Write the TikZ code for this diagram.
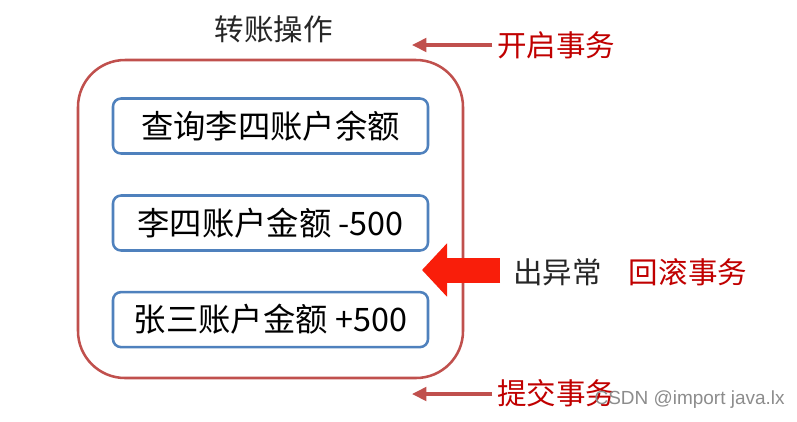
\documentclass[tikz,border=0pt]{standalone}
\usepackage{fontspec}
\usetikzlibrary{positioning,calc,arrows.meta}
\newfontfamily\cjk{Noto Sans CJK SC}
\newfontfamily\wmfont{Liberation Sans}
\definecolor{txred}{HTML}{C0504D}
\definecolor{txblue}{HTML}{4F81BD}
\definecolor{lblred}{HTML}{C00000}
\definecolor{errred}{HTML}{F91E0A}

\begin{document}
\begin{tikzpicture}[
  txframe/.style={draw=txred, line width=1.8pt, rounded corners=1.175cm,
                minimum width=9.625cm, minimum height=7.95cm},
  stepbox/.style={draw=txblue, line width=1.8pt, rounded corners=0.2cm,
                  fill=white, minimum width=7.875cm, minimum height=1.375cm,
                  align=center, font=\cjk\fontsize{23}{27}\selectfont},
  ttl/.style={font=\cjk\fontsize{21}{25}\selectfont, text=black!85},
  lbl/.style={font=\cjk\fontsize{21}{25}\selectfont, text=lblred},
  note/.style={font=\cjk\fontsize{21}{25}\selectfont, text=black!85},
  wmark/.style={font=\wmfont\fontsize{13.5}{16}\selectfont, text=black!45},
  thinarrow/.style={line width=2.2pt, txred, -{Triangle[length=0.36cm, width=0.34cm]}},
  bigarrow/.style={line width=0.625cm, errred,
                    -{Triangle[length=0.625cm, width=1.3cm]}},
]
\useasboundingbox (0,0) rectangle (19.925,-10.525);

% Transaction frame and its title
\node[txframe] (txn) at (6.7625,-5.475) {};
\node[ttl] (title) at (6.84,-0.725) {转账操作};

% Steps inside the transaction
\node[stepbox] (s1) at (6.7625,-3.15) {查询李四账户余额};
\node[stepbox] (s2) at (6.7625,-5.575) {李四账户金额 -500};
\node[stepbox] (s3) at (6.7625,-7.99) {张三账户金额 +500};

% Begin -- top of frame
\node[lbl] (begin) at (13.91,-1.125) {开启事务};
\coordinate (beginTip) at (10.3,-1.125);
\draw[thinarrow] (begin.west) -- (beginTip);

% Exception -- big red arrow, rollback
\node[note] (err) at (13.94,-6.8) {出异常};
\node[lbl] (rollback) at (17.2,-6.8) {回滚事务};
\coordinate (errTail) at (12.5,-6.75);
\coordinate (errTip) at (10.55,-6.75);
\draw[bigarrow] (errTail) -- (errTip);

% Commit -- bottom of frame
\node[lbl] (commit) at (13.91,-9.84) {提交事务};
\coordinate (commitTip) at (10.3,-9.85);
\draw[thinarrow] (commit.west |- commitTip) -- (commitTip);

% Watermark
\node[wmark] (wm) at (17.24,-10.0) {CSDN @import java.lx};

\end{tikzpicture}
\end{document}
